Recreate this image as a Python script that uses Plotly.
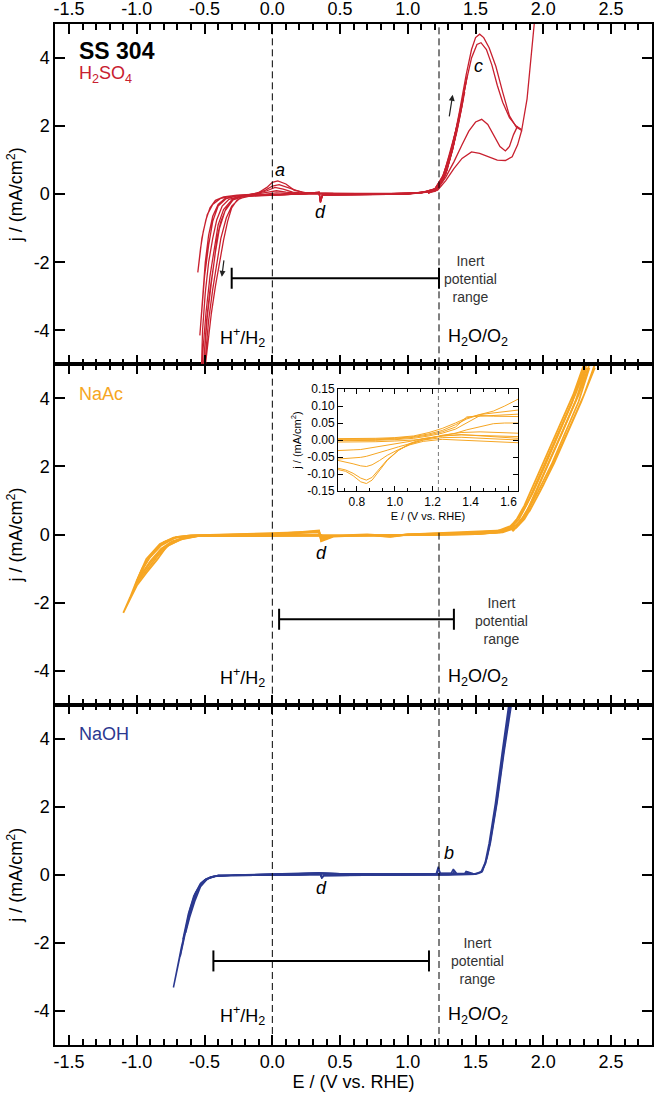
import plotly.graph_objects as go

# ---------------- axis ticks / ranges ----------------
E_RANGE = [-1.604, 2.802]
J_RANGE = [-5, 5]
E_TICKS = [-1.5, -1.0, -0.5, 0.0, 0.5, 1.0, 1.5, 2.0, 2.5]
E_TICK_TEXT = ["-1.5", "-1.0", "-0.5", "0.0", "0.5", "1.0", "1.5", "2.0", "2.5"]
J_TICKS = [-4, -2, 0, 2, 4]
J_TICK_TEXT = ["-4", "-2", "0", "2", "4"]

INSET_E_RANGE = [0.7, 1.65]
INSET_J_RANGE = [-0.15, 0.15]
INSET_E_TICKS = [0.8, 1.0, 1.2, 1.4, 1.6]
INSET_E_TICK_TEXT = ["0.8", "1.0", "1.2", "1.4", "1.6"]
INSET_J_TICKS = [-0.15, -0.10, -0.05, 0.0, 0.05, 0.10, 0.15]
INSET_J_TICK_TEXT = ["-0.15", "-0.10", "-0.05", "0.00", "0.05", "0.10", "0.15"]

# reference potentials (V vs RHE)
E_H2 = 0.0
E_O2 = 1.23

# inert potential ranges [start, end] and drawing level
INERT_H2SO4 = [-0.30, 1.23]
INERT_H2SO4_J = -2.47
INERT_NAAC = [0.05, 1.34]
INERT_NAAC_J = -2.49
INERT_NAOH = [-0.435, 1.156]
INERT_NAOH_J = -2.53

# ---------------- H2SO4 cycles ----------------
h2so4_c1_E = [1.40, 1.36, 1.31, 1.26, 1.20, 1.00, 0.70, 0.45, 0.37, 0.355, 0.345, 0.25, 0.05, -0.15, -0.30,
              -0.38, -0.44, -0.48, -0.51, -0.53, -0.55, -0.54, -0.52, -0.49, -0.46, -0.42, -0.36, -0.26, -0.12, -0.03,
              0.03, 0.10, 0.20, 0.35, 0.60, 0.90, 1.10, 1.20, 1.25, 1.30, 1.35, 1.40]
h2so4_c1_j = [2.6, 1.8, 1.0, 0.4, 0.08, 0.0, -0.01, -0.02, -0.02, -0.2, 0.04, 0.01, -0.01, -0.03, -0.06,
              -0.12, -0.3, -0.6, -1.1, -1.6, -2.3, -1.9, -1.3, -0.75, -0.4, -0.18, -0.08, -0.03, 0.0, 0.06,
              0.1, 0.06, 0.02, 0.02, 0.01, 0.02, 0.05, 0.15, 0.45, 1.0, 1.8, 2.6]

h2so4_c2_E = [1.42, 1.38, 1.33, 1.27, 1.20, 1.00, 0.70, 0.45, 0.37, 0.355, 0.345, 0.25, 0.05, -0.15, -0.28,
              -0.35, -0.40, -0.44, -0.47, -0.495, -0.515, -0.535, -0.52, -0.50, -0.47, -0.44, -0.40, -0.34, -0.25, -0.12,
              -0.04, 0.02, 0.08, 0.15, 0.25, 0.45, 0.80, 1.10, 1.20, 1.26, 1.31, 1.37, 1.42]
h2so4_c2_j = [3.0, 2.2, 1.3, 0.5, 0.1, 0.01, -0.01, -0.02, -0.02, -0.22, 0.05, 0.01, -0.02, -0.03, -0.06,
              -0.13, -0.3, -0.65, -1.2, -2.0, -3.0, -4.15, -3.4, -2.4, -1.5, -0.8, -0.35, -0.13, -0.04, 0.01,
              0.1, 0.2, 0.15, 0.06, 0.02, 0.01, 0.01, 0.04, 0.15, 0.5, 1.2, 2.1, 3.0]

h2so4_c3_E = [1.43, 1.39, 1.34, 1.28, 1.20, 1.00, 0.70, 0.45, 0.37, 0.355, 0.345, 0.25, 0.05, -0.12, -0.25,
              -0.32, -0.37, -0.41, -0.44, -0.47, -0.495, -0.515, -0.525, -0.51, -0.49, -0.46, -0.43, -0.40, -0.36, -0.30,
              -0.22, -0.12, -0.05, 0.0, 0.05, 0.12, 0.22, 0.45, 0.80, 1.10, 1.20, 1.26, 1.32, 1.38, 1.43]
h2so4_c3_j = [3.3, 2.5, 1.5, 0.6, 0.1, 0.01, -0.01, -0.02, -0.03, -0.24, 0.06, 0.02, -0.02, -0.03, -0.07,
              -0.15, -0.35, -0.75, -1.3, -2.0, -2.9, -4.0, -5.4, -4.5, -3.5, -2.4, -1.6, -0.9, -0.45, -0.17,
              -0.05, 0.02, 0.12, 0.24, 0.28, 0.18, 0.05, 0.02, 0.01, 0.04, 0.15, 0.55, 1.3, 2.3, 3.3]

h2so4_c4_E = [1.44, 1.40, 1.35, 1.29, 1.21, 1.00, 0.70, 0.45, 0.37, 0.355, 0.345, 0.25, 0.05, -0.10, -0.22,
              -0.29, -0.34, -0.38, -0.41, -0.43, -0.46, -0.485, -0.50, -0.515, -0.50, -0.48, -0.45, -0.42, -0.39, -0.35,
              -0.29, -0.20, -0.10, -0.04, 0.0, 0.04, 0.10, 0.16, 0.25, 0.45, 0.80, 1.10, 1.20, 1.27, 1.33,
              1.39, 1.44]
h2so4_c4_j = [3.5, 2.7, 1.7, 0.7, 0.12, 0.01, -0.01, -0.02, -0.03, -0.25, 0.06, 0.02, -0.02, -0.03, -0.07,
              -0.16, -0.4, -0.8, -1.3, -2.0, -2.8, -3.7, -4.5, -5.4, -4.6, -3.6, -2.6, -1.7, -1.0, -0.5,
              -0.17, -0.05, 0.05, 0.2, 0.35, 0.39, 0.3, 0.12, 0.04, 0.02, 0.01, 0.04, 0.16, 0.6, 1.4,
              2.5, 3.5]

h2so4_c5_E = [1.41, 1.37, 1.32, 1.27, 1.20, 1.00, 0.70, 0.45, 0.37, 0.355, 0.345, 0.25, 0.05, -0.10, -0.20,
              -0.26, -0.30, -0.33, -0.36, -0.39, -0.42, -0.45, -0.475, -0.49, -0.505, -0.49, -0.47, -0.44, -0.41, -0.38,
              -0.34, -0.30, -0.24, -0.15, -0.05, 0.03, 0.12, 0.30, 0.60, 1.00, 1.15, 1.22, 1.28, 1.34, 1.41]
h2so4_c5_j = [2.8, 2.0, 1.2, 0.5, 0.1, 0.0, -0.01, -0.02, -0.03, -0.22, 0.05, 0.01, -0.02, -0.03, -0.07,
              -0.17, -0.4, -0.8, -1.35, -2.0, -2.7, -3.5, -4.3, -4.9, -5.4, -4.6, -3.7, -2.8, -2.0, -1.3,
              -0.7, -0.35, -0.12, -0.04, 0.0, 0.04, 0.02, 0.01, 0.01, 0.02, 0.06, 0.2, 0.6, 1.5, 2.8]

# anodic passivation peaks (c)
h2so4_p1_E = [1.15, 1.22, 1.28, 1.33, 1.38, 1.43, 1.47, 1.50, 1.53, 1.56, 1.60, 1.65, 1.70, 1.75, 1.80, 1.84, 1.88, 1.91, 1.94]
h2so4_p1_j = [0.03, 0.2, 0.7, 1.4, 2.4, 3.5, 4.25, 4.6, 4.7, 4.6, 4.3, 3.75, 3.0, 2.3, 1.97, 1.87, 2.8, 4.1, 5.3]
h2so4_p2_E = [1.15, 1.22, 1.28, 1.33, 1.38, 1.43, 1.47, 1.51, 1.54, 1.58, 1.62, 1.66, 1.70, 1.75, 1.80, 1.84]
h2so4_p2_j = [0.03, 0.18, 0.65, 1.3, 2.25, 3.3, 4.0, 4.4, 4.45, 4.25, 3.8, 3.2, 2.7, 2.25, 2.0, 1.9]
h2so4_p3_E = [1.15, 1.22, 1.28, 1.34, 1.40, 1.45, 1.50, 1.545, 1.59, 1.64, 1.68, 1.72, 1.75, 1.78, 1.81]
h2so4_p3_j = [0.03, 0.15, 0.5, 0.95, 1.45, 1.85, 2.12, 2.2, 2.05, 1.7, 1.4, 1.27, 1.4, 1.75, 2.0]
h2so4_p4_E = [1.15, 1.22, 1.28, 1.34, 1.40, 1.47, 1.53, 1.60, 1.66, 1.72, 1.77, 1.81, 1.84]
h2so4_p4_j = [0.03, 0.12, 0.4, 0.75, 1.05, 1.24, 1.2, 1.08, 1.0, 0.99, 1.1, 1.45, 1.87]

# ---------------- NaAc cycles ----------------
naac_c1_E = [2.38, 2.30, 2.20, 2.10, 2.00, 1.92, 1.86, 1.80, 1.70, 1.50, 1.20, 0.90, 0.60, 0.40, 0.37,
             0.36, 0.20, 0.00, -0.20, -0.40, -0.55, -0.68, -0.78, -0.85, -0.93, -1.00, -1.05, -1.10, -1.05, -1.00,
             -0.93, -0.83, -0.73, -0.60, -0.40, -0.20, 0.00, 0.20, 0.345, 0.36, 0.45, 0.70, 0.87, 1.00, 1.20,
             1.50, 1.70, 1.82, 1.90, 1.98, 2.08, 2.18, 2.28, 2.38]
naac_c1_j = [5.0, 4.1, 3.2, 2.3, 1.45, 0.85, 0.45, 0.2, 0.06, 0.02, 0.0, -0.03, -0.04, -0.04, -0.04,
             -0.02, -0.03, -0.04, -0.04, -0.04, -0.05, -0.15, -0.35, -0.74, -1.13, -1.5, -1.9, -2.3, -1.85, -1.35,
             -0.72, -0.28, -0.09, -0.04, -0.01, 0.0, 0.01, 0.06, 0.1, -0.18, -0.05, -0.02, -0.06, 0.0, 0.02,
             0.06, 0.12, 0.3, 0.7, 1.3, 2.1, 3.0, 3.9, 4.9]

naac_c2_E = [2.34, 2.26, 2.16, 2.06, 1.97, 1.90, 1.84, 1.78, 1.68, 1.50, 1.20, 0.90, 0.60, 0.40, 0.37,
             0.36, 0.20, 0.00, -0.20, -0.40, -0.55, -0.66, -0.76, -0.84, -0.92, -1.01, -0.97, -0.91, -0.82, -0.72,
             -0.60, -0.40, -0.20, 0.00, 0.20, 0.345, 0.36, 0.45, 0.70, 0.87, 1.00, 1.20, 1.50, 1.68, 1.80,
             1.88, 1.96, 2.06, 2.16, 2.26, 2.34]
naac_c2_j = [5.0, 4.1, 3.2, 2.3, 1.45, 0.85, 0.45, 0.2, 0.06, 0.01, -0.01, -0.03, -0.05, -0.05, -0.05,
             -0.02, -0.03, -0.05, -0.05, -0.04, -0.05, -0.12, -0.3, -0.6, -1.0, -1.48, -1.1, -0.7, -0.32, -0.1,
             -0.04, -0.02, 0.0, 0.02, 0.07, 0.12, -0.2, -0.06, -0.02, -0.07, -0.01, 0.02, 0.05, 0.1, 0.28,
             0.65, 1.25, 2.05, 2.95, 3.9, 4.9]

naac_c3_E = [2.32, 2.24, 2.14, 2.04, 1.95, 1.88, 1.82, 1.76, 1.66, 1.50, 1.20, 0.90, 0.60, 0.40, 0.37,
             0.36, 0.20, 0.00, -0.20, -0.40, -0.55, -0.66, -0.75, -0.83, -0.91, -1.00, -0.96, -0.90, -0.81, -0.71,
             -0.60, -0.40, -0.20, 0.00, 0.20, 0.345, 0.36, 0.45, 0.70, 0.87, 1.00, 1.20, 1.50, 1.70, 1.765,
             1.775, 1.82, 1.88, 1.95, 2.04, 2.14, 2.24, 2.32]
naac_c3_j = [5.0, 4.15, 3.25, 2.35, 1.5, 0.9, 0.45, 0.2, 0.06, 0.02, 0.0, -0.02, -0.03, -0.03, -0.03,
             -0.01, -0.02, -0.03, -0.03, -0.03, -0.04, -0.1, -0.25, -0.5, -0.88, -1.38, -1.0, -0.62, -0.25, -0.08,
             -0.03, -0.01, 0.01, 0.03, 0.05, 0.08, -0.14, -0.04, -0.01, -0.05, 0.0, 0.03, 0.07, 0.12, 0.23,
             0.1, 0.3, 0.7, 1.3, 2.1, 3.0, 3.95, 4.9]

naac_c4_E = [2.30, 2.22, 2.12, 2.02, 1.93, 1.86, 1.80, 1.74, 1.65, 1.50, 1.20, 0.90, 0.60, 0.40, 0.37,
             0.36, 0.20, 0.00, -0.20, -0.40, -0.55, -0.65, -0.74, -0.82, -0.90, -0.99, -0.95, -0.89, -0.80, -0.70,
             -0.60, -0.40, -0.20, 0.00, 0.20, 0.345, 0.36, 0.45, 0.70, 0.87, 1.00, 1.20, 1.50, 1.66, 1.76,
             1.84, 1.92, 2.01, 2.11, 2.21, 2.30]
naac_c4_j = [5.0, 4.1, 3.2, 2.3, 1.45, 0.85, 0.42, 0.18, 0.06, 0.01, -0.01, -0.02, -0.03, -0.03, -0.03,
             -0.01, -0.02, -0.02, -0.03, -0.03, -0.04, -0.09, -0.2, -0.42, -0.78, -1.3, -0.95, -0.58, -0.22, -0.07,
             -0.03, -0.01, 0.0, 0.0, 0.04, 0.06, -0.1, -0.03, 0.0, -0.04, 0.0, 0.02, 0.05, 0.1, 0.25,
             0.62, 1.2, 2.0, 2.9, 3.85, 4.9]

# ---------------- NaOH cycles ----------------
naoh_c1_E = [1.775, 1.755, 1.705, 1.656, 1.607, 1.575, 1.545, 1.50, 1.30, 1.00, 0.70, 0.38, 0.365, 0.355, 0.20,
             0.00, -0.20, -0.40, -0.46, -0.52, -0.57, -0.61, -0.64, -0.67, -0.70, -0.73, -0.70, -0.67, -0.63, -0.60,
             -0.56, -0.51, -0.45, -0.38, -0.20, 0.00, 0.20, 0.345, 0.50, 0.80, 1.10, 1.30, 1.45, 1.52, 1.55,
             1.585, 1.61, 1.66, 1.71, 1.76, 1.78]
naoh_c1_j = [5.4, 5.0, 3.56, 2.1, 0.93, 0.35, 0.08, 0.02, 0.0, -0.01, -0.02, -0.02, -0.1, 0.03, 0.0,
             -0.01, -0.01, -0.02, -0.08, -0.22, -0.55, -1.05, -1.6, -2.2, -2.8, -3.31, -2.75, -2.1, -1.45, -0.95,
             -0.5, -0.18, -0.06, -0.02, 0.0, 0.01, 0.03, 0.05, 0.03, 0.02, 0.02, 0.03, 0.03, 0.04, 0.12,
             0.5, 0.95, 2.15, 3.6, 5.0, 5.4]

naoh_c2_E = [1.48, 1.43, 1.42, 1.30, 1.00, 0.70, 0.38, 0.365, 0.355, 0.20, 0.00, -0.20, -0.40, -0.47, -0.53,
             -0.58, -0.62, -0.66, -0.63, -0.59, -0.55, -0.50, -0.44, -0.20, 0.00, 0.20, 0.345, 0.50, 0.80, 1.10,
             1.21, 1.225, 1.235, 1.32, 1.336, 1.35, 1.48]
naoh_c2_j = [0.04, 0.1, 0.04, 0.01, 0.0, -0.01, -0.02, -0.09, 0.02, 0.0, -0.01, -0.01, -0.02, -0.09, -0.25,
             -0.62, -1.15, -1.9, -1.4, -0.85, -0.42, -0.15, -0.05, 0.0, 0.01, 0.025, 0.04, 0.03, 0.02, 0.02,
             0.04, 0.24, 0.05, 0.05, 0.17, 0.05, 0.04]

naoh_c3_E = [1.46, 1.44, 1.43, 1.30, 1.00, 0.70, 0.38, 0.365, 0.355, 0.20, 0.00, -0.20, -0.40, -0.46, -0.51,
             -0.56, -0.60, -0.64, -0.61, -0.57, -0.53, -0.48, -0.42, -0.20, 0.00, 0.20, 0.345, 0.50, 0.80, 1.10,
             1.215, 1.228, 1.24, 1.33, 1.345, 1.36, 1.46]
naoh_c3_j = [0.03, 0.08, 0.03, 0.01, 0.0, -0.01, -0.02, -0.07, 0.01, 0.0, -0.01, -0.01, -0.02, -0.07, -0.2,
             -0.5, -1.0, -1.7, -1.25, -0.75, -0.35, -0.12, -0.04, 0.0, 0.02, 0.035, 0.05, 0.03, 0.02, 0.02,
             0.04, 0.18, 0.05, 0.04, 0.12, 0.04, 0.03]

naoh_c4_E = [1.765, 1.745, 1.695, 1.646, 1.60, 1.57, 1.54, 1.50, 1.30, 1.00, 0.70, 0.38, 0.365, 0.355, 0.20,
             0.00, -0.20, -0.40, -0.47, -0.53, -0.58, -0.62, -0.65, -0.68, -0.65, -0.62, -0.58, -0.54, -0.49, -0.43,
             -0.20, 0.00, 0.20, 0.345, 0.50, 0.80, 1.10, 1.30, 1.50, 1.55, 1.58, 1.605, 1.655, 1.705, 1.755, 1.77]
naoh_c4_j = [5.4, 5.0, 3.56, 2.1, 0.93, 0.35, 0.08, 0.02, 0.0, -0.01, -0.02, -0.02, -0.08, 0.02, 0.0,
             -0.01, -0.01, -0.02, -0.1, -0.28, -0.7, -1.3, -1.8, -2.4, -1.85, -1.3, -0.75, -0.35, -0.12, -0.04,
             0.0, 0.02, 0.04, 0.06, 0.03, 0.02, 0.02, 0.03, 0.04, 0.1, 0.45, 0.9, 2.1, 3.55, 5.0, 5.4]

# ---------------- NaAc inset (zoom of 0.7-1.65 V) ----------------
inset_fwd_E = [0.70, 0.80, 0.90, 1.00, 1.10, 1.18, 1.25, 1.32, 1.38, 1.45, 1.52, 1.58, 1.65]
inset_f1_j = [0.004, 0.004, 0.005, 0.007, 0.012, 0.022, 0.034, 0.05, 0.065, 0.075, 0.085, 0.1, 0.12]
inset_f2_j = [0.002, 0.002, 0.003, 0.005, 0.01, 0.018, 0.028, 0.045, 0.062, 0.075, 0.08, 0.085, 0.088]
inset_f3_j = [0.0, 0.0, 0.001, 0.003, 0.008, 0.015, 0.024, 0.038, 0.068, 0.07, 0.072, 0.074, 0.076]
inset_f4_j = [-0.002, -0.002, -0.001, 0.001, 0.005, 0.012, 0.02, 0.032, 0.05, 0.072, 0.07, 0.069, 0.069]
inset_f5_j = [-0.006, -0.006, -0.005, -0.003, 0.0, 0.005, 0.012, 0.02, 0.03, 0.04, 0.048, 0.05, 0.05]
inset_rev_E = [1.65, 1.55, 1.45, 1.35, 1.25, 1.15, 1.08, 1.02, 0.96, 0.92, 0.88, 0.85, 0.82, 0.78, 0.74, 0.70]
inset_r1_j = [0.01, 0.012, 0.014, 0.015, 0.012, 0.004, -0.01, -0.03, -0.06, -0.09, -0.118, -0.128, -0.123, -0.105, -0.092, -0.087]
inset_r2_j = [0.0, 0.003, 0.006, 0.008, 0.007, 0.0, -0.012, -0.03, -0.058, -0.085, -0.11, -0.118, -0.112, -0.098, -0.088, -0.083]
inset_r3_j = [-0.008, -0.006, -0.003, 0.0, 0.002, -0.004, -0.014, -0.028, -0.045, -0.06, -0.073, -0.078, -0.076, -0.07, -0.064, -0.06]
inset_r4_j = [0.02, 0.022, 0.024, 0.022, 0.014, 0.0, -0.01, -0.02, -0.03, -0.037, -0.044, -0.048, -0.051, -0.053, -0.055, -0.056]
inset_r5_j = [0.005, 0.008, 0.012, 0.016, 0.012, 0.004, -0.004, -0.01, -0.016, -0.02, -0.024, -0.026, -0.028, -0.029, -0.03, -0.031]

# ---------------- styling ----------------
RED = "#C8202F"
ORANGE = "#F6A623"
BLUE = "#2B3990"
FONT = "Liberation Sans, Arial, Helvetica, sans-serif"

fig = go.Figure()


def add_curve(E, j, color, xa, ya, width=1.3):
    fig.add_trace(go.Scatter(x=E, y=j, mode="lines", line=dict(color=color, width=width),
                             xaxis=xa, yaxis=ya, hoverinfo="skip", showlegend=False))


for E, j in [(h2so4_c1_E, h2so4_c1_j), (h2so4_c2_E, h2so4_c2_j), (h2so4_c3_E, h2so4_c3_j),
             (h2so4_c4_E, h2so4_c4_j), (h2so4_c5_E, h2so4_c5_j), (h2so4_p1_E, h2so4_p1_j),
             (h2so4_p2_E, h2so4_p2_j), (h2so4_p3_E, h2so4_p3_j), (h2so4_p4_E, h2so4_p4_j)]:
    add_curve(E, j, RED, "x3", "y3")

for E, j in [(naac_c1_E, naac_c1_j), (naac_c2_E, naac_c2_j), (naac_c3_E, naac_c3_j), (naac_c4_E, naac_c4_j)]:
    add_curve(E, j, ORANGE, "x2", "y2", 1.8)

for E, j in [(naoh_c1_E, naoh_c1_j), (naoh_c2_E, naoh_c2_j), (naoh_c3_E, naoh_c3_j), (naoh_c4_E, naoh_c4_j)]:
    add_curve(E, j, BLUE, "x", "y", 1.5)

for jj in [inset_f1_j, inset_f2_j, inset_f3_j, inset_f4_j, inset_f5_j]:
    add_curve(inset_fwd_E, jj, ORANGE, "x4", "y4", 1.0)
for jj in [inset_r1_j, inset_r2_j, inset_r3_j, inset_r4_j, inset_r5_j]:
    add_curve(inset_rev_E, jj, ORANGE, "x4", "y4", 1.0)

# dashed reference potential lines
DASH = "7px,4px"
for xa, ya in [("x3", "y3"), ("x", "y")]:
    for e in [E_H2, E_O2]:
        fig.add_trace(go.Scatter(x=[e, e], y=J_RANGE, mode="lines", line=dict(color="black", width=1, dash=DASH),
                                 xaxis=xa, yaxis=ya, hoverinfo="skip", showlegend=False))
fig.add_trace(go.Scatter(x=[E_H2, E_H2], y=J_RANGE, mode="lines", line=dict(color="black", width=1, dash=DASH),
                         xaxis="x2", yaxis="y2", hoverinfo="skip", showlegend=False))
# middle panel: hidden behind the inset box
fig.add_trace(go.Scatter(x=[E_O2, E_O2, None, E_O2, E_O2], y=[J_RANGE[0], 0.12, None, 4.4, J_RANGE[1]],
                         mode="lines", line=dict(color="black", width=1, dash=DASH),
                         xaxis="x2", yaxis="y2", hoverinfo="skip", showlegend=False))
# inset dashed line
fig.add_trace(go.Scatter(x=[E_O2, E_O2], y=INSET_J_RANGE, mode="lines",
                         line=dict(color="#777777", width=1, dash="4px,3px"),
                         xaxis="x4", yaxis="y4", hoverinfo="skip", showlegend=False))

# inert potential range bars
for rng, lvl, xa, ya in [(INERT_H2SO4, INERT_H2SO4_J, "x3", "y3"), (INERT_NAAC, INERT_NAAC_J, "x2", "y2"),
                         (INERT_NAOH, INERT_NAOH_J, "x", "y")]:
    fig.add_trace(go.Scatter(x=rng, y=[lvl, lvl], mode="lines+markers",
                             line=dict(color="black", width=2),
                             marker=dict(symbol="line-ns", size=15, color="black", line=dict(width=2, color="black")),
                             xaxis=xa, yaxis=ya, hoverinfo="skip", showlegend=False))

# ---------------- axes ----------------
E_MINOR = []
for k in range(45):
    v = round(-1.6 + 0.1 * k, 3)
    if abs(v * 2 - round(v * 2)) > 1e-6:
        E_MINOR.append(v)
INSET_E_MINOR = [round(0.6 + 0.2 * k / 3, 4) for k in range(1, 16) if k % 3 != 0]

tick_font = dict(family=FONT, size=18, color="black")

x_common = dict(range=E_RANGE, tickmode="array", tickvals=E_TICKS, ticktext=E_TICK_TEXT,
                ticks="inside", ticklen=10, tickwidth=1.5, tickcolor="black",
                showline=True, linecolor="black", linewidth=1.5, mirror="ticks",
                showgrid=False, zeroline=False, tickfont=tick_font, automargin=False,
                minor=dict(tickmode="array", tickvals=E_MINOR, ticks="inside", ticklen=6,
                           tickwidth=1.5, tickcolor="black", showgrid=False))
y_common = dict(range=J_RANGE, tickmode="array", tickvals=J_TICKS, ticktext=J_TICK_TEXT,
                ticks="inside", ticklen=10, tickwidth=1.5, tickcolor="black",
                showline=True, linecolor="black", linewidth=1.5, mirror="ticks",
                showgrid=False, zeroline=False, tickfont=tick_font, automargin=False,
                title=dict(text="j / (mA/cm<sup>2</sup>)", font=dict(family=FONT, size=18, color="black"), standoff=6))

fig.update_layout(
    width=658, height=1102,
    margin=dict(l=55, r=6, t=24, b=57),
    paper_bgcolor="white", plot_bgcolor="white",
    showlegend=False,
    font=dict(family=FONT, color="black"),
    xaxis=dict(**x_common, anchor="y", domain=[0, 1],
               title=dict(text="E / (V vs. RHE)", font=dict(family=FONT, size=18, color="black"), standoff=4)),
    xaxis2=dict(**x_common, anchor="y2", domain=[0, 1], showticklabels=False),
    xaxis3=dict(**x_common, anchor="y3", domain=[0, 1], side="top"),
    yaxis=dict(**y_common, anchor="x", domain=[0, 1 / 3]),
    yaxis2=dict(**y_common, anchor="x2", domain=[1 / 3, 2 / 3]),
    yaxis3=dict(**y_common, anchor="x3", domain=[2 / 3, 1]),
    xaxis4=dict(range=INSET_E_RANGE, domain=[0.474, 0.7755], anchor="y4",
                tickmode="array", tickvals=INSET_E_TICKS, ticktext=INSET_E_TICK_TEXT,
                ticks="inside", ticklen=5, tickwidth=1, tickcolor="black",
                showline=True, linecolor="black", linewidth=1, mirror="ticks", automargin=False,
                showgrid=False, zeroline=False, tickfont=dict(family=FONT, size=12, color="black"),
                minor=dict(tickmode="array", tickvals=INSET_E_MINOR, ticks="inside", ticklen=3,
                           tickwidth=1, tickcolor="black", showgrid=False),
                title=dict(text="E / (V vs. RHE)", font=dict(family=FONT, size=11, color="black"), standoff=3)),
    yaxis4=dict(range=INSET_J_RANGE, domain=[0.5426, 0.6425], anchor="x4",
                tickmode="array", tickvals=INSET_J_TICKS, ticktext=INSET_J_TICK_TEXT,
                ticks="inside", ticklen=5, tickwidth=1, tickcolor="black",
                showline=True, linecolor="black", linewidth=1, mirror="ticks", automargin=False,
                showgrid=False, zeroline=False, tickfont=dict(family=FONT, size=12, color="black"),
                title=dict(text="j / (mA/cm<sup>2</sup>)", font=dict(family=FONT, size=11, color="black"), standoff=3)),
)

# ---------------- annotations ----------------
ann = []


def txt(x, y, text, xr, yr, size=18, color="black", xanchor="center", yanchor="middle"):
    ann.append(dict(x=x, y=y, xref=xr, yref=yr, text=text, showarrow=False, xanchor=xanchor, yanchor=yanchor,
                    font=dict(family=FONT, size=size, color=color)))


INERT_TEXT = "Inert<br>potential<br>range"
H2_TEXT = "H<sup>+</sup>/H<sub>2</sub>"
O2_TEXT = "H<sub>2</sub>O/O<sub>2</sub>"

# top panel
txt(-1.441, 4.21, "<b>SS 304</b>", "x3", "y3", size=23, xanchor="left")
txt(-1.441, 3.52, "H<sub>2</sub>SO<sub>4</sub>", "x3", "y3", size=18, color=RED, xanchor="left")
txt(0.057, 0.70, "<i>a</i>", "x3", "y3")
txt(1.52, 3.78, "<i>c</i>", "x3", "y3")
txt(0.352, -0.53, "<i>d</i>", "x3", "y3")
txt(-0.04, -4.2, H2_TEXT, "x3", "y3", xanchor="right")
txt(1.285, -4.2, O2_TEXT, "x3", "y3", xanchor="left")
txt(1.466, -2.49, INERT_TEXT, "x3", "y3", size=14, color="#333333")
# middle panel
txt(-1.441, 4.13, "NaAc", "x2", "y2", size=18, color=ORANGE, xanchor="left")
txt(0.366, -0.535, "<i>d</i>", "x2", "y2")
txt(-0.04, -4.2, H2_TEXT, "x2", "y2", xanchor="right")
txt(1.285, -4.2, O2_TEXT, "x2", "y2", xanchor="left")
txt(1.693, -2.54, INERT_TEXT, "x2", "y2", size=14, color="#333333")
# bottom panel
txt(-1.441, 4.14, "NaOH", "x", "y", size=18, color=BLUE, xanchor="left")
txt(0.366, -0.38, "<i>d</i>", "x", "y")
txt(1.306, 0.64, "<i>b</i>", "x", "y")
txt(-0.04, -4.14, H2_TEXT, "x", "y", xanchor="right")
txt(1.285, -4.14, O2_TEXT, "x", "y", xanchor="left")
txt(1.516, -2.54, INERT_TEXT, "x", "y", size=14, color="#333333")

# arrows (cycling direction)
for hx, hy, tx, ty in [(-0.373, -2.43, -0.356, -1.9), (1.331, 2.92, 1.304, 2.24)]:
    ann.append(dict(x=hx, y=hy, ax=tx, ay=ty, xref="x3", yref="y3", axref="x3", ayref="y3",
                    showarrow=True, arrowhead=2, arrowsize=1, arrowwidth=1.2, arrowcolor="#222222", text=""))

fig.update_layout(annotations=ann)

# place the figure at the page origin (no default body margin) and hide the mode bar
fig.write_html("out.html", config={"displayModeBar": False},
               post_script="document.body.style.margin='0px';document.body.style.overflow='hidden';")
